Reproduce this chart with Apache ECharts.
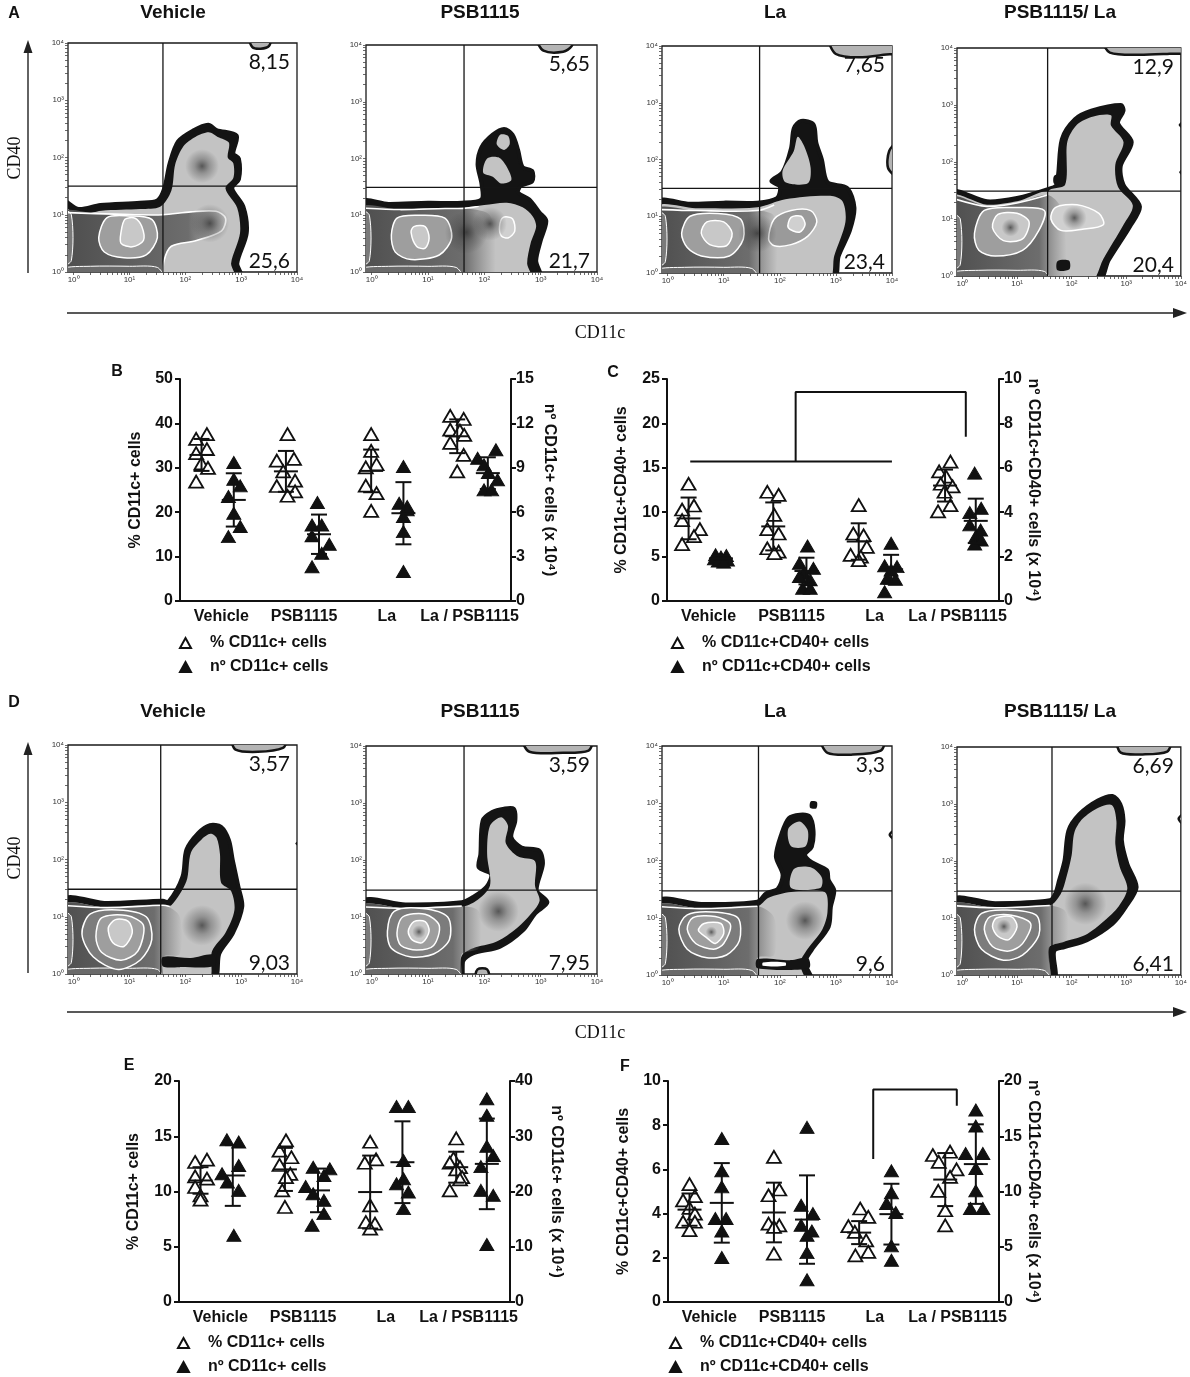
<!DOCTYPE html>
<html>
<head>
<meta charset="utf-8">
<script src="https://cdn.jsdelivr.net/npm/echarts@6/dist/echarts.min.js"></script>
<style>
html, body { margin: 0; padding: 0; background: #fff; }
#fig { width: 1190px; height: 1377px; }
</style>
</head>
<body>
<div id="fig"></div>
<script>
const SANS = 'Liberation Sans, Arial, sans-serif';
const SERIF = 'Liberation Serif, Times New Roman, serif';
const NUMF = 'Lato, Open Sans, sans-serif';
const SUP = ['\u2070', '\u00b9', '\u00b2', '\u00b3', '\u2074'];

// ---------- flow cytometry plots (coordinates are log10 decades) ----------
const flowTitles = ['Vehicle', 'PSB1115', 'La', 'PSB1115/ La', 'Vehicle', 'PSB1115', 'La', 'PSB1115/ La'];
const flowPct = [['8,15', '25,6'], ['5,65', '21,7'], ['7,65', '23,4'], ['12,9', '20,4'],
                 ['3,57', '9,03'], ['3,59', '7,95'], ['3,3', '9,6'], ['6,69', '6,41']];
// quadrant gate [x, y]
const flowGate = [[1.6, 1.5], [1.64, 1.49], [1.64, 1.49], [1.56, 1.49],
                  [1.56, 1.48], [1.64, 1.47], [1.62, 1.47], [1.64, 1.47]];

// outermost contour (black)
const flowOuter = [
  [[-0.2,-0.1],[-0.2,1.24],[0.09,1.1],[0.48,1.17],[1.19,1.21],[1.5,1.25],[1.62,1.45],[1.72,1.9],[1.87,2.28],[2.14,2.47],[2.41,2.57],[2.56,2.48],[2.92,2.38],[2.86,2.07],[2.96,1.98],[2.96,1.62],[2.84,1.46],[3.04,1.14],[3.1,0.68],[2.93,0.15],[3.0,-0.1]],
  [[-0.2,-0.1],[-0.2,1.23],[0.3,1.2],[1.0,1.22],[1.6,1.22],[1.95,1.28],[1.95,1.55],[1.88,1.9],[1.95,2.2],[2.15,2.42],[2.35,2.52],[2.5,2.42],[2.6,2.15],[2.68,1.85],[2.85,1.78],[2.85,1.6],[2.65,1.52],[2.6,1.4],[2.8,1.28],[2.98,1.05],[3.1,0.9],[3.0,0.55],[2.92,0.2],[2.98,-0.1]],
  [[-0.2,-0.1],[-0.2,1.25],[0.4,1.22],[1.0,1.24],[1.6,1.24],[1.95,1.32],[2.0,1.52],[1.85,1.62],[2.05,1.78],[2.2,2.2],[2.25,2.55],[2.38,2.68],[2.6,2.62],[2.65,2.3],[2.75,2.0],[2.85,1.6],[3.2,1.5],[3.33,1.15],[3.25,0.75],[3.05,0.3],[2.95,-0.1]],
  [[-0.2,-0.1],[-0.2,1.46],[0.45,1.31],[1.0,1.37],[1.55,1.52],[1.72,1.6],[1.82,2.4],[2.06,2.75],[2.36,2.9],[2.9,3.0],[2.95,2.9],[2.85,2.68],[3.1,2.35],[2.9,1.93],[2.95,1.6],[3.25,1.22],[3.07,0.87],[2.68,0.28],[2.48,-0.1]],
  [[-0.2,-0.1],[-0.2,1.29],[0.6,1.24],[1.6,1.28],[1.7,1.26],[1.95,1.7],[2.02,2.17],[2.23,2.46],[2.44,2.6],[2.64,2.57],[2.78,2.34],[2.85,1.99],[2.95,1.53],[3.02,1.18],[2.85,0.71],[2.61,0.36],[2.5,-0.1]],
  [[-0.2,-0.1],[-0.2,1.26],[0.6,1.22],[1.6,1.26],[1.8,1.35],[2.04,1.53],[2.12,1.75],[1.9,1.87],[1.93,2.1],[1.97,2.69],[2.14,2.84],[2.35,2.9],[2.52,2.9],[2.55,2.69],[2.48,2.4],[2.66,2.22],[2.97,2.17],[3.04,1.93],[2.93,1.47],[3.12,1.26],[2.9,1.06],[2.69,0.77],[2.28,0.48],[1.8,0.36],[1.62,0.22],[1.56,-0.1]],
  [[-0.2,-0.1],[-0.2,1.28],[0.6,1.24],[1.6,1.28],[1.76,1.43],[1.96,1.5],[2.05,1.75],[1.93,2.07],[2.03,2.47],[2.16,2.74],[2.36,2.8],[2.53,2.77],[2.6,2.53],[2.57,2.24],[2.45,2.1],[2.57,1.97],[2.84,1.83],[2.87,1.66],[2.97,1.48],[2.91,1.19],[2.87,0.84],[2.57,0.44],[2.45,0.22],[2.55,-0.1]],
  [[-0.2,-0.1],[-0.2,1.31],[0.6,1.26],[1.6,1.31],[1.7,1.43],[1.77,1.66],[1.87,2.01],[1.94,2.53],[2.14,2.82],[2.48,3.06],[2.75,3.14],[2.89,3.0],[2.95,2.71],[2.92,2.36],[3.02,1.95],[3.19,1.54],[2.99,1.19],[2.75,0.9],[2.28,0.61],[1.87,0.49],[1.68,0.42],[1.66,-0.1]]
];
// light grey interior regions
const flowLight = [
  [[[-0.2,-0.1],[-0.2,1.12],[0.1,1.0],[0.5,1.07],[1.2,1.1],[1.55,1.14],[1.75,1.42],[1.82,1.88],[1.97,2.2],[2.18,2.36],[2.42,2.44],[2.58,2.36],[2.78,2.26],[2.76,2.0],[2.86,1.9],[2.86,1.64],[2.72,1.46],[2.93,1.12],[2.98,0.68],[2.82,0.15],[2.88,-0.1]]],
  [[[-0.2,-0.1],[-0.2,1.13],[0.3,1.1],[1.0,1.12],[1.6,1.13],[2.0,1.18],[2.4,1.22],[2.68,1.14],[2.86,0.98],[2.92,0.8],[2.82,0.5],[2.76,0.15],[2.82,-0.1]],
   [[2.22,2.25],[2.28,2.42],[2.42,2.4],[2.45,2.25],[2.35,2.15]],
   [[1.98,1.75],[2.05,2.0],[2.25,2.02],[2.4,1.85],[2.48,1.62],[2.3,1.56],[2.15,1.68]]],
  [[[-0.2,-0.1],[-0.2,1.16],[0.5,1.14],[1.6,1.16],[2.1,1.3],[2.9,1.36],[3.12,1.26],[3.17,0.9],[2.97,0.3],[2.87,-0.1]],
   [[2.1,1.6],[2.05,1.8],[2.25,2.15],[2.32,2.4],[2.45,2.2],[2.55,1.85],[2.5,1.58]]],
  [[[1.88,1.6],[1.92,2.35],[2.1,2.66],[2.4,2.8],[2.72,2.82],[2.72,2.64],[2.95,2.35],[2.8,1.95],[2.85,1.56],[3.12,1.24],[2.95,0.9],[2.58,0.3],[2.36,-0.1],[1.58,-0.1],[1.58,1.48]],
   [[-0.2,-0.1],[-0.2,1.4],[0.45,1.25],[1.0,1.31],[1.6,1.46],[1.6,-0.1]]],
  [[[-0.2,-0.1],[-0.2,1.2],[0.6,1.16],[1.6,1.2],[1.75,1.2],[2.02,1.62],[2.1,2.12],[2.3,2.36],[2.45,2.45],[2.56,2.38],[2.62,2.1],[2.64,1.6],[2.82,1.45],[2.88,1.12],[2.72,0.72],[2.48,0.4],[2.4,-0.1]]],
  [[[-0.2,-0.1],[-0.2,1.18],[0.6,1.15],[1.6,1.18],[1.85,1.28],[2.1,1.55],[2.05,2.1],[2.1,2.6],[2.3,2.75],[2.42,2.6],[2.38,2.3],[2.6,2.06],[2.9,1.98],[2.9,1.55],[2.98,1.28],[2.78,1.0],[2.52,0.76],[2.2,0.56],[1.8,0.45],[1.6,0.32],[1.5,-0.1]]],
  [[[-0.2,-0.1],[-0.2,1.2],[0.6,1.16],[1.6,1.2],[1.8,1.35],[2.2,1.45],[2.8,1.45],[2.85,1.1],[2.76,0.8],[2.47,0.42],[2.36,0.2],[2.42,-0.1]],
   [[2.2,2.25],[2.15,2.55],[2.35,2.68],[2.5,2.52],[2.46,2.25]],
   [[2.2,1.52],[2.25,1.85],[2.55,1.88],[2.75,1.7],[2.72,1.52]]],
  [[[-0.2,-0.1],[-0.2,1.22],[0.6,1.18],[1.6,1.22],[1.8,1.42],[1.9,1.7],[2.0,2.1],[2.05,2.5],[2.2,2.74],[2.5,2.94],[2.74,2.98],[2.82,2.7],[2.8,2.3],[2.88,1.9],[3.02,1.52],[2.86,1.2],[2.6,0.95],[2.25,0.7],[1.85,0.58],[1.58,0.48],[1.56,-0.1]]]
];
// dark lower-left band
const flowBand = [
  [[-0.2,-0.1],[-0.2,1.04],[0.4,1.02],[1.1,1.0],[1.6,1.0],[2.1,1.05],[2.55,1.06],[2.72,0.94],[2.65,0.72],[2.2,0.55],[1.75,0.45],[1.62,0.2],[1.55,-0.1]],
  [[-0.2,-0.1],[-0.2,1.13],[0.5,1.1],[1.3,1.12],[1.7,1.12],[2.1,1.0],[2.2,0.4],[2.1,-0.1]],
  [[-0.2,-0.1],[-0.2,1.12],[0.5,1.1],[1.6,1.1],[1.9,1.0],[1.95,0.3],[1.85,-0.1]],
  [[-0.2,-0.1],[-0.2,1.37],[0.45,1.22],[1.0,1.28],[1.56,1.42],[1.8,1.2],[1.9,0.4],[1.8,-0.1]],
  [[-0.2,-0.1],[-0.2,1.2],[0.6,1.16],[1.6,1.2],[1.9,1.0],[1.9,0.35],[1.6,0.3],[1.56,-0.1]],
  [[-0.2,-0.1],[-0.2,1.18],[0.6,1.15],[1.6,1.19],[1.9,1.1],[1.9,0.45],[1.6,0.35],[1.55,-0.1]],
  [[-0.2,-0.1],[-0.2,1.2],[0.6,1.16],[1.6,1.2],[1.9,1.0],[1.9,0.35],[1.6,0.3],[1.56,-0.1]],
  [[-0.2,-0.1],[-0.2,1.22],[0.6,1.18],[1.6,1.22],[1.9,1.1],[1.9,0.6],[1.6,0.5],[1.55,-0.1]]
];
// white contour just inside the black edge of the band
const flowContour = [
  [[-0.2,1.04],[0.4,1.02],[1.1,1.0],[1.6,1.0],[2.1,1.05],[2.55,1.06],[2.72,0.94],[2.65,0.72],[2.2,0.55],[1.75,0.45],[1.62,0.2],[1.6,-0.1]],
  [[-0.2,1.13],[0.5,1.1],[1.3,1.12],[1.62,1.12],[1.9,1.16]],
  [[-0.2,1.12],[0.5,1.1],[1.6,1.1],[1.9,1.2]],
  [[-0.2,1.37],[0.45,1.22],[1.0,1.28],[1.56,1.42]],
  [[-0.2,1.2],[0.6,1.16],[1.6,1.2],[1.72,1.18]],
  [[-0.2,1.18],[0.6,1.15],[1.6,1.19]],
  [[-0.2,1.2],[0.6,1.16],[1.6,1.2]],
  [[-0.2,1.22],[0.6,1.18],[1.6,1.22]]
];
// nested rings round the left population, outer to inner
const flowRings = [
  [[[0.45,0.6],[0.6,0.95],[1.0,0.98],[1.4,0.92],[1.5,0.6],[1.3,0.3],[0.9,0.25],[0.55,0.35]],
   [[0.85,0.7],[0.92,0.92],[1.1,0.94],[1.22,0.8],[1.25,0.55],[1.05,0.44],[0.85,0.5]]],
  [[[0.35,0.65],[0.45,0.95],[0.8,1.0],[1.3,0.95],[1.42,0.6],[1.2,0.3],[0.7,0.22],[0.42,0.35]],
   [[0.7,0.7],[0.75,0.8],[0.95,0.8],[1.02,0.6],[0.95,0.42],[0.8,0.45]]],
  [[[0.25,0.7],[0.4,1.0],[0.9,1.05],[1.3,0.95],[1.35,0.6],[1.1,0.3],[0.6,0.3],[0.35,0.45]],
   [[0.6,0.7],[0.7,0.9],[1.0,0.9],[1.15,0.7],[1.05,0.48],[0.75,0.5]]],
  [[[0.22,0.75],[0.4,1.15],[1.0,1.2],[1.5,1.15],[1.4,0.8],[1.1,0.45],[0.6,0.35],[0.3,0.45]],
   [[0.55,0.85],[0.65,1.08],[1.0,1.1],[1.22,0.95],[1.1,0.65],[0.75,0.62]]],
  [[[0.15,0.7],[0.3,1.05],[0.8,1.12],[1.3,1.0],[1.4,0.6],[1.2,0.25],[0.8,0.08],[0.35,0.3]],
   [[0.4,0.65],[0.5,0.98],[0.95,1.02],[1.25,0.85],[1.15,0.4],[0.85,0.24],[0.5,0.38]],
   [[0.62,0.8],[0.75,0.95],[0.98,0.92],[1.05,0.72],[0.9,0.48],[0.7,0.55]]],
  [[[0.28,0.75],[0.4,1.1],[0.9,1.15],[1.35,1.0],[1.38,0.6],[1.1,0.35],[0.7,0.3],[0.35,0.45]],
   [[0.45,0.72],[0.55,1.0],[0.95,1.05],[1.2,0.85],[1.1,0.5],[0.8,0.42],[0.52,0.5]],
   [[0.65,0.75],[0.75,0.92],[0.95,0.92],[1.02,0.75],[0.9,0.55],[0.72,0.6]]],
  [[[0.2,0.8],[0.35,1.05],[0.8,1.1],[1.25,1.0],[1.28,0.6],[1.05,0.35],[0.7,0.3],[0.35,0.45]],
   [[0.35,0.8],[0.45,1.0],[0.85,1.02],[1.12,0.88],[1.0,0.55],[0.82,0.45],[0.5,0.55]],
   [[0.55,0.78],[0.65,0.9],[0.95,0.9],[1.0,0.72],[0.85,0.55],[0.7,0.65]]],
  [[[0.22,0.8],[0.35,1.08],[0.8,1.14],[1.35,1.05],[1.4,0.7],[1.1,0.35],[0.75,0.26],[0.35,0.45]],
   [[0.4,0.8],[0.5,1.02],[0.9,1.05],[1.25,0.9],[1.1,0.55],[0.85,0.42],[0.55,0.5]],
   [[0.55,0.85],[0.62,1.0],[0.9,1.02],[1.0,0.85],[0.85,0.62],[0.65,0.68]]]
];
// rings round the right (CD11c+) population
const flowRightRings = [
  [],
  [[[2.27,0.8],[2.33,0.96],[2.5,0.94],[2.54,0.72],[2.42,0.6],[2.3,0.64]]],
  [[[1.8,0.6],[1.9,0.95],[2.2,1.1],[2.55,1.1],[2.66,0.9],[2.5,0.65],[2.2,0.5],[1.9,0.48]],
   [[2.15,0.8],[2.2,0.98],[2.38,1.0],[2.45,0.85],[2.35,0.72]]],
  [[[1.62,1.0],[1.7,1.2],[2.1,1.25],[2.5,1.1],[2.58,0.9],[2.2,0.82],[1.8,0.8]]],
  [], [], [], []
];
// dense spots [x, y, radius]
const flowSpots = [
  [[2.44,0.85,0.34],[2.3,1.85,0.3]],
  [[1.68,0.7,0.38],[2.1,0.85,0.3]],
  [[1.6,0.7,0.34]],
  [[0.88,0.85,0.16],[2.05,1.02,0.22]],
  [[2.3,0.85,0.36]],
  [[0.84,0.74,0.12],[2.25,1.1,0.36]],
  [[2.45,0.95,0.34],[0.78,0.75,0.1]],
  [[0.76,0.85,0.13],[2.25,1.25,0.38]]
];
// partial contours cut by the frame
const flowEdge = [
  [[[3.15,4.1],[3.2,3.93],[3.35,3.9],[3.5,3.95],[3.52,4.1]]],
  [[[2.95,4.1],[3.05,3.9],[3.4,3.88],[3.55,3.98],[3.55,4.1]]],
  [[[2.9,4.1],[3.0,3.86],[3.4,3.8],[3.9,3.85],[4.1,3.88],[4.1,4.1]], [[4.1,2.3],[3.95,2.15],[3.93,1.85],[4.1,1.7]]],
  [[[2.6,4.1],[2.7,3.92],[3.2,3.88],[3.8,3.9],[4.1,3.92],[4.1,4.1]]],
  [[[2.85,4.1],[2.9,3.92],[3.3,3.88],[3.75,3.95],[3.8,4.1]]],
  [[[2.7,4.1],[2.8,3.9],[3.4,3.88],[3.85,3.92],[3.9,4.1]], [[1.85,-0.1],[1.88,0.08],[2.05,0.08],[2.08,-0.1]]],
  [[[2.75,4.1],[2.85,3.88],[3.3,3.85],[3.8,3.92],[3.85,4.1]], [[4.1,2.55],[3.96,2.45],[4.1,2.35]]],
  [[[2.85,4.1],[2.9,3.9],[3.3,3.87],[3.75,3.92],[3.8,4.1]], [[4.1,2.85],[3.96,2.74],[4.1,2.62]]]
];
// solid black islands
const flowInk = [
  [], [], [],
  [[[1.68,1.62],[1.68,1.76],[1.84,1.78],[1.86,1.64]], [[1.74,0.1],[1.74,0.26],[1.95,0.27],[1.96,0.12]], [[4.1,2.75],[3.96,2.65],[4.1,2.55]], [[4.1,1.9],[3.97,1.82],[4.1,1.72]]],
  [[[1.6,0.13],[1.6,0.3],[2.1,0.28],[2.5,0.34],[2.52,0.14],[1.9,0.12]], [[4.1,2.35],[3.97,2.28],[4.1,2.2]]],
  [],
  [[[1.6,0.12],[1.6,0.28],[2.2,0.26],[2.5,0.3],[2.52,0.12]], [[2.54,2.92],[2.55,3.03],[2.66,3.02],[2.65,2.91]]],
  []
];
const flowHole = [[], [], [], [], [], [], [[[1.7,0.16],[1.7,0.22],[2.1,0.22],[2.1,0.16]]], []];
const flowBaseStrip = [[-0.2,-0.1],[-0.2,0.06],[0.3,0.1],[1.0,0.1],[1.5,0.08],[1.6,-0.1]];
const flowSideStrip = [[-0.2,0.12],[-0.04,0.2],[-0.04,1.0],[-0.2,1.08]];

// ---------- dot plots ----------
const groups = ['Vehicle', 'PSB1115', 'La', 'La / PSB1115'];
const openX = [0.26, 1.28, 2.31, 3.35];
const fillX = [0.65, 1.68, 2.70, 3.72];

const bPct = [[37.6,36.5,34.2,33.3,31.0,30.0,26.9],[37.6,32.0,31.6,29.2,27.1,25.9,24.7,23.7],[37.6,33.8,30.8,30.1,26.0,24.3,20.3],[41.7,41.0,38.6,38.4,37.4,35.6,32.9,29.2]];
const bPctSide = [[1,-1,1,-1,0,1.2,-1],[0.3,1.5,-1.7,-0.5,1.7,-1.7,1.7,0.3],[0,0,1,-1,-1,1,0],[-1.3,1.2,-1.3,0.5,1.3,-1.3,1.2,0]];
const bPctStat = [[32.9,3.6],[29.2,4.6],[29.3,4.8],[37.1,3.8]];
const bNum = [[9.36,8.23,7.78,7.06,5.93,5.03,4.35],[6.65,5.14,5.14,4.40,3.83,3.23,2.32],[9.09,6.61,6.38,6.16,5.71,4.69,1.99],[10.22,9.65,9.20,8.68,8.19,7.51,7.51]];
const bNumSide = [[0,0,1.2,-1,0,1.2,-1],[-0.3,-1.3,0.5,-1.3,1.9,0.5,-1.3],[0,-0.8,0.7,0.7,0,0,0],[1.5,-1.9,-0.7,0.1,1.8,-0.7,0.7]];
const bNumStat = [[6.83,1.8],[4.51,1.33],[5.93,2.1],[8.64,1.07]];

const cPct = [[13.2,10.75,10.3,9.1,8.1,7.3,6.4],[12.3,11.95,9.7,8.1,7.6,5.94,5.56,5.4],[10.8,7.6,7.4,6.1,5.2,5.0,4.6],[15.7,14.6,14.0,13.2,12.9,12.3,10.8,10.1]];
const cPctSide = [[0,1,-1.2,-1.2,2.1,1,-1.2],[-1.1,1,0.2,-1.1,1,-1.1,1,0.2],[0,-1,0.9,1.5,-1.5,0.4,0],[1,-1.1,0.2,-0.8,1.4,-0.1,1,-1.3]];
const cPctStat = [[9.3,2.35],[8.4,2.7],[6.7,2.05],[13.0,1.8]];
const cNum = [[2.08,2.05,1.98,1.9,1.85,1.8,1.75],[2.48,1.70,1.47,1.25,1.10,0.95,0.57,0.57],[2.60,1.59,1.55,1.40,1.02,0.98,0.42],[5.76,4.18,3.98,3.43,3.20,2.90,2.75,2.57]];
const cNumSide = [[-1,1,0,-1.2,1.2,-0.5,0.5],[0.2,-1.3,1.3,-0.5,-1.3,0.7,-0.7,0.7],[0,-1.2,1.1,0,-0.7,0.8,-1.2],[-0.2,1,-1.1,-1.1,0.9,0,1,-0.2]];
const cNumStat = [[1.92,0.15],[1.35,0.6],[1.43,0.65],[3.61,1.0]];
const cBracket = [[[0.28,15.7],[2.71,15.7]], [[1.55,15.7],[1.55,23.55],[3.6,23.55],[3.6,18.5]]];

const ePct = [[12.88,12.67,11.37,11.16,10.41,9.65,9.26],[14.63,13.7,13.1,12.4,11.6,11.3,10.1,8.6],[14.5,12.9,12.6,8.75,7.24,7.09,6.64],[14.8,13.0,12.6,12.2,12.0,11.3,11.1,10.1]];
const ePctSide = [[1.2,-1,-1,1.2,-1,0,0],[0.2,-1,1.2,-1,1,0.2,-0.5,0],[0,1.1,-1,0,-0.8,0.9,0],[0,-0.5,-1.2,0.7,0,1.1,0.7,-1.2]];
const ePctStat = [[11.0,1.2],[12.0,1.95],[9.95,3.3],[12.2,1.4]];
const eNum = [[29.37,28.95,24.7,23.2,21.7,20.2,12.06],[24.4,24.1,22.9,20.9,19.6,18.4,16.0,13.9],[35.4,35.4,25.6,22.3,21.4,19.9,16.9],[36.8,33.8,28.2,26.5,24.5,20.2,19.3,10.4]];
const eNumSide = [[-1.1,1.1,1.1,-2,-1,1.1,0.2],[-0.9,2.2,1.1,-2.3,-0.9,1.1,1.1,-1.1],[-1.1,1.1,0.2,0.2,-1.1,1.1,0.2],[0,0,0,1.2,-1.1,-1.1,1.2,0]];
const eNumStat = [[22.9,5.5],[20.2,3.95],[25.3,7.4],[25.0,8.2]];

const fPct = [[5.33,4.79,4.6,4.26,4.0,3.63,3.63,3.25],[6.57,5.09,4.83,3.55,3.47,3.40,2.19],[4.23,3.85,3.43,3.17,2.79,2.27,2.11],[6.80,6.65,6.34,6.0,5.66,5.03,4.15,3.47]];
const fPctSide = [[0,1,-1.2,0,1,-1.2,1,0],[0,1,-1,-1,1,0,0],[0.2,1.7,-2,-0.8,1.3,1.7,-0.7],[0.9,-2.3,-1.2,2.1,0.9,-1.3,0,0]];
const fPctStat = [[4.18,0.73],[4.05,1.35],[3.14,0.52],[5.54,1.2]];
const fNum = [[14.8,11.87,10.42,7.55,7.55,6.43,4.02],[15.8,8.76,8.0,6.95,6.43,6.04,4.47,2.02],[11.87,9.88,8.91,8.10,5.08,3.78],[17.37,15.92,13.44,13.44,12.08,10.06,8.46,8.46]];
const fNumSide = [[0,0,0,-1.2,0.8,0,0],[0,-1.1,1.1,-1.1,0.9,0,0,0],[0,0,-0.9,0.8,0,0],[0,0,-1.9,1.3,0,0,-1,1.3]];
const fNumStat = [[8.97,3.6],[7.46,4.0],[7.95,2.75],[12.48,3.6]];
const fBracket = [[[2.48,6.47],[2.48,9.62],[3.49,9.62],[3.49,8.88]]];

// ---------- layout ----------
const flowBoxes = [[68,43,229,229],[366,45,231,227],[662,46,230,227],[957,48,229,228],
                   [68,745,229,229],[366,746,231,228],[662,746,230,229],[957,747,229,228]];
const flowTitleXY = [[173,13],[480,13],[775,13],[1060,13],[173,712],[480,712],[775,712],[1060,712]];
const SPREAD = 0.065;

const flowTicks = [];
for (let n = 0; n < 4; n++) {
  for (let k = 1; k < 10; k++) flowTicks.push(n + Math.log10(k));
}
flowTicks.push(4);

const ringFills = ['#7c7c7c', '#9e9e9e', '#c8c8c8'];
const rightFills = ['#9a9a9a', '#d0d0d0'];

function bandFill() {
  return { type: 'linear', x: 0, y: 0, x2: 1, y2: 0,
    colorStops: [{ offset: 0, color: '#4c4c4c' }, { offset: 0.78, color: '#6d6d6d' }, { offset: 1, color: 'rgba(120,120,120,0)' }] };
}

function renderFlow(p, params, api) {
  const cs = params.coordSys;
  const P = pts => pts.map(q => api.coord(q));
  const poly = (pts, style) => ({ type: 'polygon', shape: { points: P(pts), smooth: 0.3 }, style: style });
  const kids = [];

  kids.push(poly(flowOuter[p], { fill: '#141414', stroke: '#141414', lineWidth: 4 }));
  flowLight[p].forEach(s => kids.push(poly(s, { fill: '#c3c3c3' })));
  kids.push(poly(flowBand[p], { fill: bandFill() }));
  kids.push(poly(flowBaseStrip, { fill: '#6a6a6a', stroke: '#fff', lineWidth: 1 }));
  kids.push(poly(flowSideStrip, { fill: '#7a7a7a', stroke: '#fff', lineWidth: 1 }));
  kids.push({ type: 'polyline', shape: { points: P(flowContour[p]), smooth: 0.3 },
    style: { fill: null, stroke: '#fff', lineWidth: 1.6 } });

  const rings = flowRings[p];
  const fills = ringFills.slice(ringFills.length - rings.length);
  rings.forEach((r, i) => kids.push(poly(r, { fill: fills[i], stroke: '#fff', lineWidth: 1.5 })));
  const rr = flowRightRings[p];
  const rf = rightFills.slice(rightFills.length - rr.length);
  rr.forEach((r, i) => kids.push(poly(r, { fill: rf[i], stroke: '#fff', lineWidth: 1.5 })));

  flowSpots[p].forEach(s => {
    const c = api.coord([s[0], s[1]]);
    const sz = api.size([s[2], s[2]]);
    kids.push({ type: 'circle', shape: { cx: c[0], cy: c[1], r: (sz[0] + sz[1]) / 2 },
      style: { fill: { type: 'radial', x: 0.5, y: 0.5, r: 0.5,
        colorStops: [{ offset: 0, color: 'rgba(40,40,40,0.7)' }, { offset: 0.45, color: 'rgba(60,60,60,0.35)' },
                     { offset: 1, color: 'rgba(60,60,60,0)' }] } } });
  });
  flowEdge[p].forEach(s => kids.push(poly(s, { fill: '#b4b4b4', stroke: '#141414', lineWidth: 2.5 })));
  flowInk[p].forEach(s => kids.push(poly(s, { fill: '#141414' })));
  flowHole[p].forEach(s => kids.push(poly(s, { fill: '#fff' })));

  const g = flowGate[p];
  const v1 = api.coord([g[0], 0]), v2 = api.coord([g[0], 4]);
  const h1 = api.coord([-0.1, g[1]]), h2 = api.coord([4, g[1]]);
  const line = { stroke: '#151515', lineWidth: 1.3 };
  kids.push({ type: 'line', shape: { x1: v1[0], y1: v1[1], x2: v2[0], y2: v2[1] }, style: line });
  kids.push({ type: 'line', shape: { x1: h1[0], y1: h1[1], x2: h2[0], y2: h2[1] }, style: line });

  const tr = api.coord([4, 4]), br = api.coord([4, 0]);
  const txt = (x, y, t) => ({ type: 'text', x: x, y: y,
    style: { text: t, fontSize: 21, fontFamily: NUMF, fill: '#111', align: 'right', verticalAlign: 'middle',
             textAlign: 'right', textVerticalAlign: 'middle' } });

  return { type: 'group', children: [
    { type: 'group', children: kids,
      clipPath: { type: 'rect', shape: { x: cs.x, y: cs.y, width: cs.width, height: cs.height } } },
    txt(tr[0] - 7, tr[1] + 19, flowPct[p][0]),
    txt(br[0] - 7, br[1] - 11, flowPct[p][1])
  ] };
}

function barItem(params, api) {
  const x = api.value(0), m = api.value(1), s = api.value(2);
  const c = api.coord([x, m]), hi = api.coord([x, m + s]), lo = api.coord([x, m - s]);
  const st = { stroke: '#111', lineWidth: 2 };
  const seg = (x1, y1, x2, y2) => ({ type: 'line', shape: { x1: x1, y1: y1, x2: x2, y2: y2 }, style: st });
  return { type: 'group', children: [
    seg(c[0], hi[1], c[0], lo[1]),
    seg(c[0] - 12, c[1], c[0] + 12, c[1]),
    seg(c[0] - 8, hi[1], c[0] + 8, hi[1]),
    seg(c[0] - 8, lo[1], c[0] + 8, lo[1])
  ] };
}

function dots(vals, sides, centers) {
  const out = [];
  vals.forEach((arr, g) => arr.forEach((v, i) => out.push([centers[g] + sides[g][i] * SPREAD, v])));
  return out;
}

const dotPanels = [
  { box: [180, 379, 331, 222], pct: bPct, pctSide: bPctSide, pctStat: bPctStat, num: bNum, numSide: bNumSide, numStat: bNumStat,
    pctName: '% CD11c+ cells', numName: 'n\u00ba CD11c+ cells', rightName: 'n\u00ba CD11c+ cells (x 10\u2074)',
    leftMax: 50, leftStep: 10, rightMax: 15, rightStep: 3, leftGap: 36, rightGap: 30, legend: [179, 635], brackets: [] },
  { box: [667, 379, 332, 222], pct: cPct, pctSide: cPctSide, pctStat: cPctStat, num: cNum, numSide: cNumSide, numStat: cNumStat,
    pctName: '% CD11c+CD40+ cells', numName: 'n\u00ba CD11c+CD40+ cells', rightName: 'n\u00ba CD11c+CD40+ cells (x 10\u2074)',
    leftMax: 25, leftStep: 5, rightMax: 10, rightStep: 2, leftGap: 37, rightGap: 22, legend: [671, 635], brackets: cBracket },
  { box: [179, 1081, 331, 221], pct: ePct, pctSide: ePctSide, pctStat: ePctStat, num: eNum, numSide: eNumSide, numStat: eNumStat,
    pctName: '% CD11c+ cells', numName: 'n\u00ba CD11c+ cells', rightName: 'n\u00ba CD11c+ cells (x 10\u2074)',
    leftMax: 20, leftStep: 5, rightMax: 40, rightStep: 10, leftGap: 37, rightGap: 38, legend: [177, 1335], brackets: [] },
  { box: [668, 1081, 331, 221], pct: fPct, pctSide: fPctSide, pctStat: fPctStat, num: fNum, numSide: fNumSide, numStat: fNumStat,
    pctName: '% CD11c+CD40+ cells', numName: 'n\u00ba CD11c+CD40+ cells', rightName: 'n\u00ba CD11c+CD40+ cells (x 10\u2074)',
    leftMax: 10, leftStep: 2, rightMax: 20, rightStep: 5, leftGap: 36, rightGap: 22, legend: [669, 1335], brackets: fBracket }
];

const grid = [], xAxis = [], yAxis = [], series = [], legend = [];

flowBoxes.forEach((b, p) => {
  grid.push({ left: b[0], top: b[1], width: b[2], height: b[3], show: true, borderColor: '#1a1a1a', borderWidth: 1.3 });
  const flowAxis = {
    type: 'value', gridIndex: p, min: -0.1, max: 4,
    splitLine: { show: false },
    axisLine: { show: false, onZero: false },
    axisTick: { show: true, customValues: flowTicks, length: 3, lineStyle: { color: '#444', width: 0.8 } },
    axisLabel: { customValues: [0, 1, 2, 3, 4], formatter: v => '10' + SUP[Math.round(v)],
                 fontSize: 8, color: '#333', margin: 4, fontFamily: SANS }
  };
  xAxis.push(flowAxis);
  yAxis.push(Object.assign({}, flowAxis, { min: 0 }));
  series.push({ type: 'custom', xAxisIndex: p, yAxisIndex: p, data: [[0, 0]], clip: true, silent: true, z: 2,
                renderItem: (params, api) => renderFlow(p, params, api) });
});

const boldText = { fontSize: 16, fontWeight: 'bold', color: '#111', fontFamily: SANS };

dotPanels.forEach((d, k) => {
  const gi = 8 + k;
  const xv = 9 + 2 * k, yl = 8 + 2 * k, yr = 9 + 2 * k;
  grid.push({ left: d.box[0], top: d.box[1], width: d.box[2], height: d.box[3] });
  xAxis.push({ type: 'category', gridIndex: gi, data: groups, boundaryGap: true,
    axisLine: { lineStyle: { color: '#111', width: 2 } }, axisTick: { show: false },
    axisLabel: Object.assign({ margin: 8, interval: 0 }, boldText) });
  xAxis.push({ type: 'value', gridIndex: gi, min: 0, max: 4, show: false });
  const yBase = (max, step, pos, name, gap, rot) => ({
    type: 'value', gridIndex: gi, min: 0, max: max, interval: step, position: pos,
    axisLine: { show: true, onZero: false, lineStyle: { color: '#111', width: 2 } },
    axisTick: { show: true, length: 5, lineStyle: { color: '#111', width: 2 } },
    splitLine: { show: false },
    axisLabel: Object.assign({ margin: pos === 'left' ? 7 : 5 }, boldText),
    name: name, nameLocation: 'middle', nameGap: gap, nameRotate: rot,
    nameTextStyle: { fontSize: 16, fontWeight: 'bold', color: '#111', fontFamily: SANS }
  });
  yAxis.push(yBase(d.leftMax, d.leftStep, 'left', d.pctName, d.leftGap, 90));
  yAxis.push(yBase(d.rightMax, d.rightStep, 'right', d.rightName, d.rightGap, -90));

  series.push({ type: 'scatter', name: d.pctName, xAxisIndex: xv, yAxisIndex: yl,
    data: dots(d.pct, d.pctSide, openX), symbol: 'triangle', symbolSize: [14, 12], z: 3,
    itemStyle: { color: '#fff', borderColor: '#111', borderWidth: 1.8, opacity: 1 } });
  series.push({ type: 'scatter', name: d.numName, xAxisIndex: xv, yAxisIndex: yr,
    data: dots(d.num, d.numSide, fillX), symbol: 'triangle', symbolSize: [14, 12], z: 3,
    itemStyle: { color: '#111', borderColor: '#111', borderWidth: 1, opacity: 1 } });
  series.push({ type: 'custom', xAxisIndex: xv, yAxisIndex: yl, z: 4, silent: true,
    data: d.pctStat.map((s, g) => [openX[g], s[0], s[1]]), renderItem: barItem });
  series.push({ type: 'custom', xAxisIndex: xv, yAxisIndex: yr, z: 4, silent: true,
    data: d.numStat.map((s, g) => [fillX[g], s[0], s[1]]), renderItem: barItem });
  d.brackets.forEach(br => series.push({ type: 'line', xAxisIndex: xv, yAxisIndex: yl, data: br,
    symbol: 'none', silent: true, z: 4, lineStyle: { color: '#111', width: 2 } }));

  legend.push({ data: [d.pctName, d.numName], orient: 'vertical', left: d.legend[0], top: d.legend[1],
    height: 80, padding: 0, itemWidth: 11, itemHeight: 10, itemGap: 8, selectedMode: false,
    itemStyle: { borderWidth: 2 },
    textStyle: { fontSize: 16, fontWeight: 'bold', color: '#111', fontFamily: SANS, padding: [0, 0, 0, 14] } });
});

// ---------- static figure text and arrows ----------
const elements = [];
const text = (x, y, t, font, extra) => Object.assign({ type: 'text', x: x, y: y,
  style: Object.assign({ text: t, fill: '#111', align: 'center', verticalAlign: 'middle',
    textAlign: 'center', textVerticalAlign: 'middle' }, font) }, extra || {});
const titleFont = { fontSize: 19, fontWeight: 'bold', fontFamily: SANS };
const letterFont = { fontSize: 16, fontWeight: 'bold', fontFamily: SANS };
const serifFont = { fontSize: 18, fontFamily: SERIF };

flowTitles.forEach((t, i) => elements.push(text(flowTitleXY[i][0], flowTitleXY[i][1], t, titleFont)));
[['A', 14, 14], ['D', 14, 703], ['B', 117, 372], ['C', 613, 373], ['E', 129, 1066], ['F', 625, 1067]]
  .forEach(l => elements.push(text(l[1], l[2], l[0], letterFont)));

[[0, 273, 40, 313, 158, 333], [1, 973, 742, 1012, 858, 1033]].forEach(a => {
  const yb = a[1], yt = a[2], yh = a[3];
  elements.push({ type: 'line', shape: { x1: 28, y1: yb, x2: 28, y2: yt + 10 }, style: { stroke: '#222', lineWidth: 1.4 } });
  elements.push({ type: 'polygon', shape: { points: [[28, yt], [23.5, yt + 13], [32.5, yt + 13]] }, style: { fill: '#222' } });
  elements.push({ type: 'line', shape: { x1: 67, y1: yh, x2: 1176, y2: yh }, style: { stroke: '#222', lineWidth: 1.4 } });
  elements.push({ type: 'polygon', shape: { points: [[1187, yh], [1173, yh - 5], [1173, yh + 5]] }, style: { fill: '#222' } });
  elements.push(text(15, a[4], 'CD40', serifFont, { rotation: Math.PI / 2 }));
  elements.push(text(600, a[5], 'CD11c', serifFont));
});

const chart = echarts.init(document.getElementById('fig'), null, { renderer: 'canvas' });
chart.setOption({
  backgroundColor: '#fff',
  animation: false,
  grid: grid,
  xAxis: xAxis,
  yAxis: yAxis,
  legend: legend,
  series: series,
  graphic: { elements: elements }
});
</script>
</body>
</html>
